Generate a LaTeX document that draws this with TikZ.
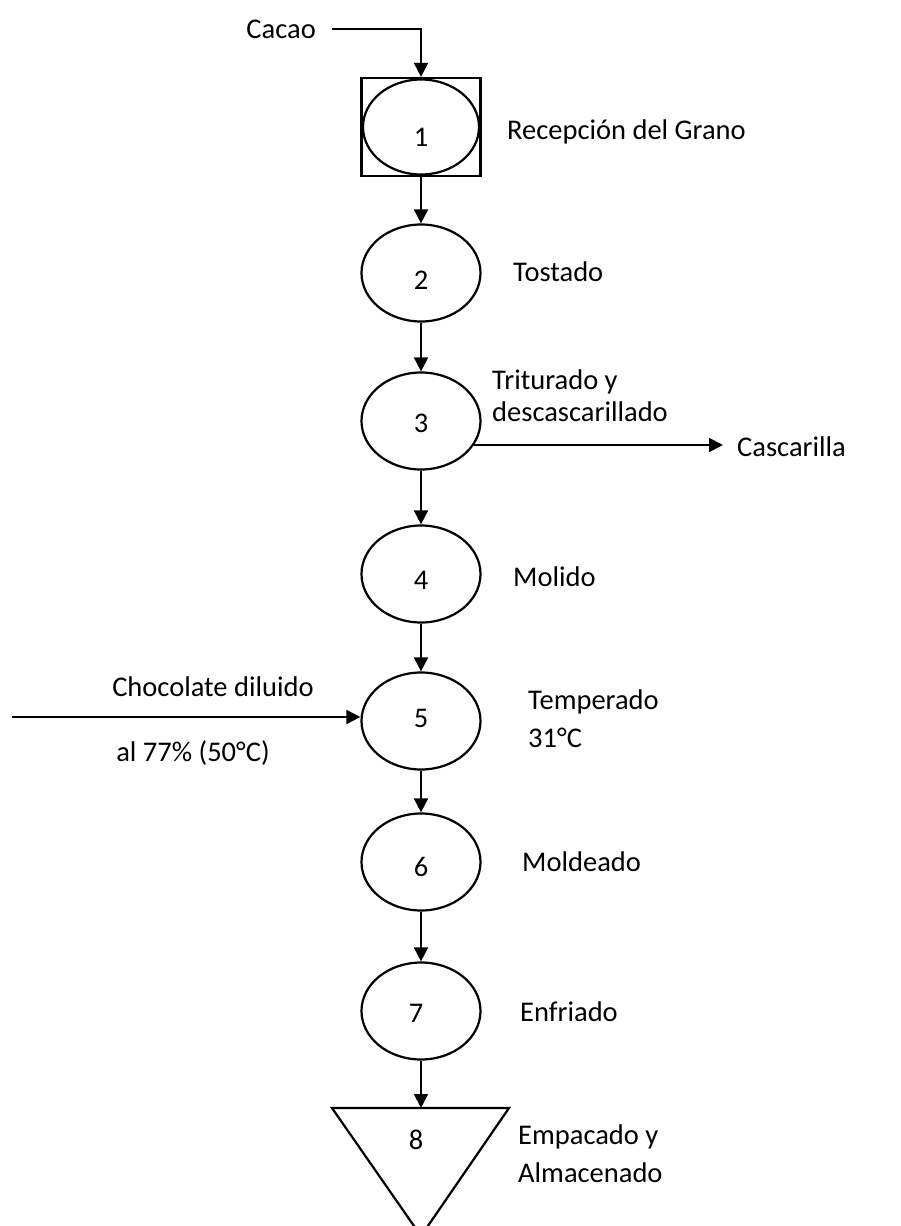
\documentclass[tikz,border=0pt]{standalone}
\usepackage{fontspec}
\setmainfont{Carlito}
\usetikzlibrary{arrows.meta,shapes.geometric}
\begin{document}
\begin{tikzpicture}[x=1pt,y=-1pt,
  every node/.style={font=\fontsize{28.5}{34}\selectfont, inner sep=0pt},
  proc/.style={draw, ellipse, line width=2.2pt, minimum width=119pt, minimum height=97pt},
  boxsq/.style={draw, line width=2.2pt, minimum width=119pt, minimum height=98pt},
  arr/.style={line width=1.8pt, -{Triangle[length=14pt,width=14pt]}},
  lbl/.style={anchor=west},
  num/.style={}]
\clip (0,0) rectangle (900,1226);
\fill[white] (0,0) rectangle (900,1226);
% step 1
\node[boxsq] (s1) at (421,127) {};
\node[proc, minimum width=116pt, minimum height=95pt] (e1) at (421,127) {};
\node[num] (n1) at (421,137) {1};
\node[lbl] (l1) at (507,132) {Recepción del Grano};
\node[anchor=east] (cacao) at (316,29) {Cacao};
\draw[arr] ([xshift=16pt]cacao.east) -| (s1.north);
% step 2
\node[proc] (e2) at (421,273) {};
\node[num] (n2) at (421,280) {2};
\node[lbl] (l2) at (513,272) {Tostado};
\draw[arr] (s1.south) -- (e2.north);
% step 3
\node[proc] (e3) at (421,421) {};
\node[num] (n3) at (421,423) {3};
\node[lbl] (l3a) at (492,382) {Triturado y};
\node[lbl] (l3b) at (492,412) {descascarillado};
\draw[arr] (e2.south) -- (e3.north);
\node[lbl] (casc) at (737,447) {Cascarilla};
\coordinate (c3) at (472,445);
\draw[arr] (c3) -- ([xshift=-14pt]casc.west |- c3);
% step 4
\node[proc] (e4) at (421,574) {};
\node[num] (n4) at (421,580) {4};
\node[lbl] (l4) at (513,577) {Molido};
\draw[arr] (e3.south) -- (e4.north);
% step 5
\node[proc] (e5) at (421,721) {};
\node[num] (n5) at (421,718) {5};
\node[lbl] (l5a) at (528,702) {Temperado};
\node[lbl] (l5b) at (528,738) {31°C};
\draw[arr] (e4.south) -- (e5.north);
\coordinate (chin) at (12,717);
\draw[arr] (chin) -- (e5.west |- chin);
\node (ch1) at (213,687) {Chocolate diluido};
\node (ch2) at (193,753) {al 77\% (50°C)};
% step 6
\node[proc] (e6) at (421,862) {};
\node[num] (n6) at (421,867) {6};
\node[lbl] (l6) at (522,862) {Moldeado};
\draw[arr] (e5.south) -- (e6.north);
% step 7
\node[proc] (e7) at (421,1011) {};
\node[num] (n7) at (416,1013) {7};
\node[lbl] (l7) at (520,1012) {Enfriado};
\draw[arr] (e6.south) -- (e7.north);
% step 8
\coordinate (t8) at (421,1108);
\draw[line width=2.2pt, line join=miter] (332,1108) -- (509,1108) -- (421,1236) -- cycle;
\node[num] (n8) at (416,1140) {8};
\node[lbl] (l8a) at (518,1137) {Empacado y};
\node[lbl] (l8b) at (518,1173) {Almacenado};
\draw[arr] (e7.south) -- (t8);
\end{tikzpicture}
\end{document}
